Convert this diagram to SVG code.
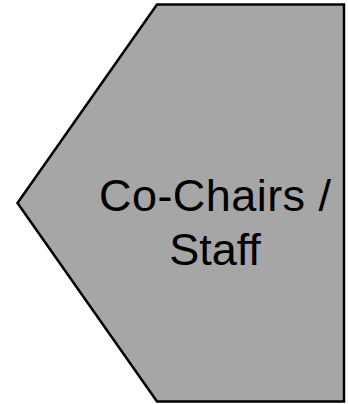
<svg xmlns="http://www.w3.org/2000/svg" width="348" height="404" viewBox="0 0 348 404">
<style>
.shape{fill:#A6A6A6;stroke:#000;stroke-width:2.5;stroke-linejoin:miter}
.lbl{font-family:"Liberation Sans","Open Sans",sans-serif;font-size:45px;fill:#000;text-anchor:middle}
</style>
<rect width="348" height="404" fill="#fff"/>
<g id="node-cochairs">
<polygon class="shape" points="157,4.5 344,4.5 344,401.5 157,401.5 17.5,203"/>
<text class="lbl" x="215" y="211" textLength="232" lengthAdjust="spacing">Co-Chairs /</text>
<text class="lbl" x="215" y="265">Staff</text>
</g>
</svg>
